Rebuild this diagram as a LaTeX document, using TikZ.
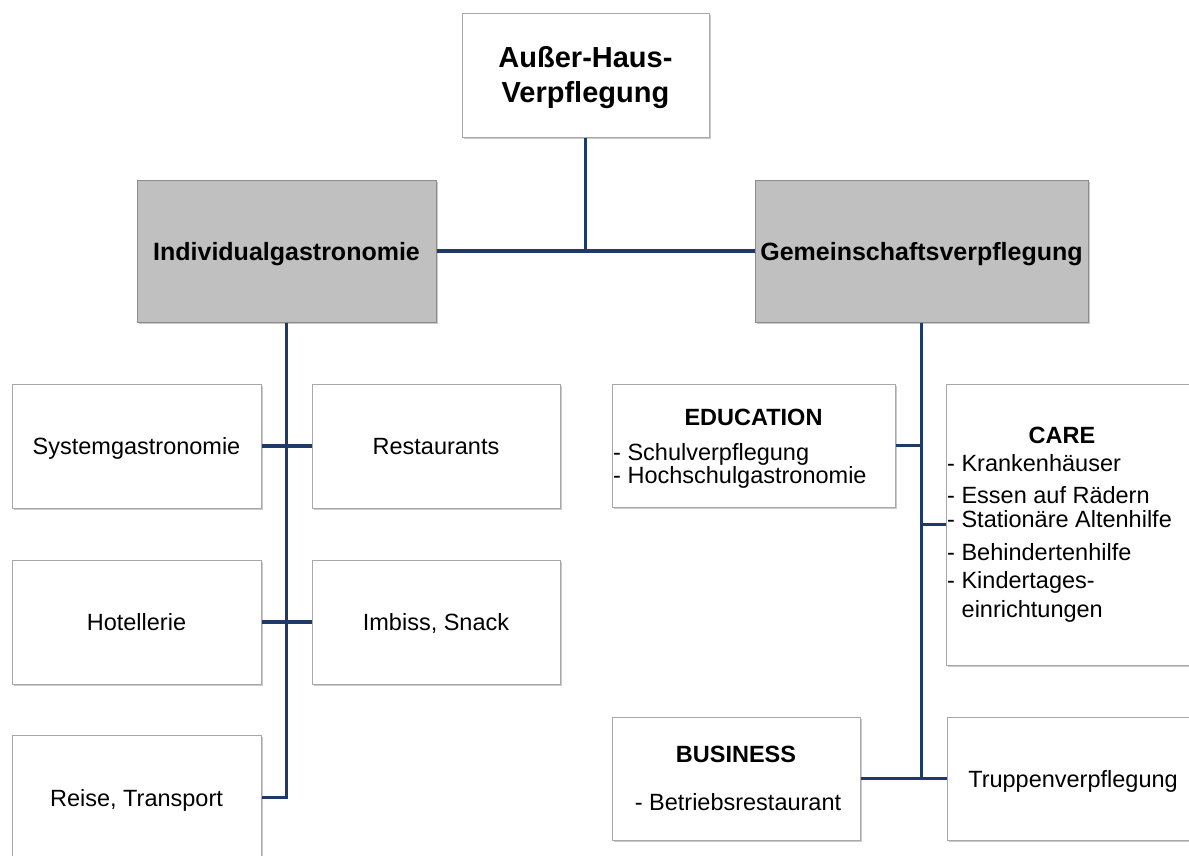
\documentclass[tikz,border=0pt]{standalone}
\usepackage{fontspec}
\setmainfont{Liberation Sans}
\usetikzlibrary{shadows}
\definecolor{linec}{HTML}{1F3A68}
\definecolor{boxline}{HTML}{A8A8A8}
\definecolor{grayfill}{HTML}{C0C0C0}
\definecolor{grayline}{HTML}{8C8C8C}
\begin{document}
\begin{tikzpicture}[x=1pt,y=-1pt,
  wbox/.style={draw=boxline, line width=1pt, fill=white, inner sep=0pt,
    drop shadow={shadow xshift=1.5pt, shadow yshift=-2pt, fill=black!60, opacity=0.35}},
  gbox/.style={wbox, fill=grayfill, draw=grayline},
  reg/.style={font=\fontsize{23.5}{24}\selectfont, text height=17pt, text depth=0pt},
  hbold/.style={font=\fontsize{25}{26}\selectfont\bfseries, text height=18pt, text depth=0pt},
  tbold/.style={font=\fontsize{29}{30}\selectfont\bfseries, inner sep=0pt},
  sbold/.style={font=\fontsize{23.5}{24}\selectfont\bfseries, inner sep=0pt},
  line/.style={font=\fontsize{23.5}{24}\selectfont, inner sep=0pt},
  conn/.style={draw=linec, line width=3.8pt}]
\useasboundingbox (0,0) rectangle (1189,855);

% top
\node[wbox, minimum width=247pt, minimum height=124pt] (top) at (585.5,75) {};
\node[tbold, anchor=base] (top1) at (585.5,67) {Außer-Haus-};
\node[tbold, anchor=base] (top2) at (585.5,102) {Verpflegung};

% categories
\node[gbox, hbold, minimum width=299pt, minimum height=142pt] (indiv) at (286.5,251) {Individualgastronomie};
\node[gbox, hbold, minimum width=333pt, minimum height=142pt] (gemein) at (921.5,251) {Gemeinschaftsverpflegung};

% left column
\node[wbox, reg, minimum width=249pt, minimum height=124pt] (syst) at (136.5,446) {Systemgastronomie};
\node[wbox, reg, minimum width=248pt, minimum height=124pt] (rest) at (436,446) {Restaurants};
\node[wbox, reg, minimum width=249pt, minimum height=124pt] (hotel) at (136.5,622) {Hotellerie};
\node[wbox, reg, minimum width=248pt, minimum height=124pt] (imbiss) at (436,622) {Imbiss, Snack};
\node[wbox, reg, minimum width=249pt, minimum height=125pt] (reise) at (136.5,797.5) {Reise, Transport};

% right side
\node[wbox, minimum width=283pt, minimum height=123pt] (edu) at (753.5,445.5) {};
\node[sbold, anchor=base] (eduT) at (753.5,425) {EDUCATION};
\node[line, anchor=base west] (edu1) at (613,460) {- Schulverpflegung};
\node[line, anchor=base west] (edu2) at (613,483) {- Hochschulgastronomie};

\node[wbox, minimum width=262pt, minimum height=281pt] (care) at (1077,524.5) {};
\node[sbold, anchor=base] (careT) at (1062,443) {CARE};
\node[line, anchor=base west] (care1) at (947,471) {- Krankenhäuser};
\node[line, anchor=base west] (care2) at (947,503) {- Essen auf Rädern};
\node[line, anchor=base west] (care3) at (947,527) {- Stationäre Altenhilfe};
\node[line, anchor=base west] (care4) at (947,560) {- Behindertenhilfe};
\node[line, anchor=base west] (care5) at (947,588) {- Kindertages-};
\node[line, anchor=base west] (care6) at (961.5,617) {einrichtungen};

\node[wbox, minimum width=248pt, minimum height=123pt] (bus) at (736,778.5) {};
\node[sbold, anchor=base] (busT) at (736,762) {BUSINESS};
\node[line, anchor=base] (bus1) at (738,810) {- Betriebsrestaurant};

\node[wbox, minimum width=261pt, minimum height=123pt] (trup) at (1077.5,778.5) {};
\node[line, anchor=base] (trupT) at (1073,787) {Truppenverpflegung};

% connectors
\draw[conn] (top.south) -- (top.south |- indiv.east);
\draw[conn] (indiv.east) -- (gemein.west);
\draw[conn] (indiv.south) |- (reise.east);
\draw[conn] (syst.east) -- (rest.west);
\draw[conn] (hotel.east) -- (imbiss.west);
\draw[conn] (gemein.south) -- (gemein.south |- bus.east);
\draw[conn] (bus.east) -- (trup.west);
\draw[conn] (edu.east) -- (edu.east -| gemein.south);
\draw[conn] (care.west) -- (care.west -| gemein.south);
\end{tikzpicture}
\end{document}
